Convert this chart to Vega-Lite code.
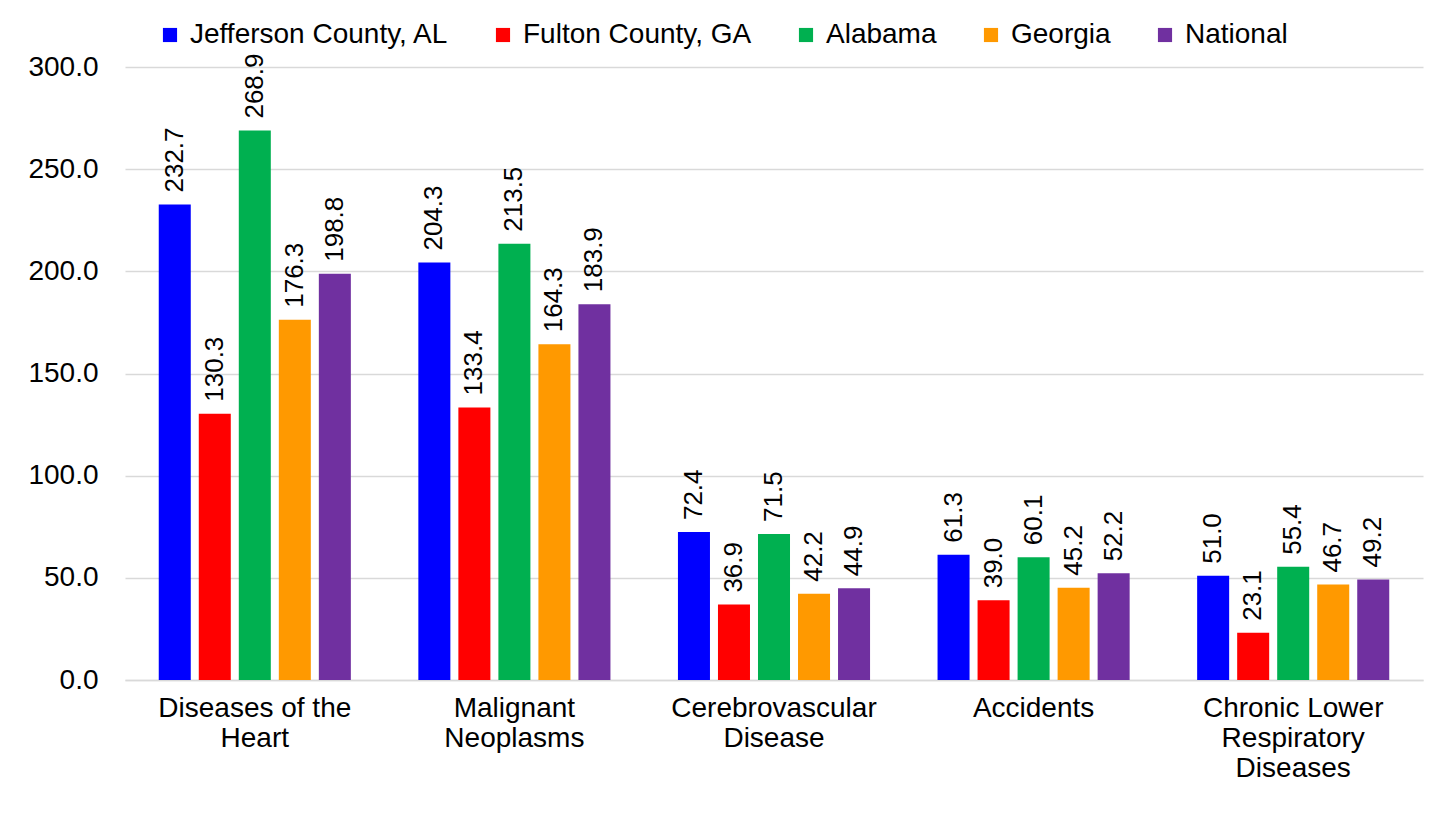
{
  "$schema": "https://vega.github.io/schema/vega-lite/v6.json",
  "width": 1298,
  "height": 613,
  "autosize": {"type": "none"},
  "padding": {"left": 125, "top": 67, "right": 26, "bottom": 136},
  "background": "white",
  "config": {
    "font": "Liberation Sans",
    "view": {"stroke": null},
    "axis": {"labelColor": "black", "labelFont": "Liberation Sans"},
    "legend": {"labelFont": "Liberation Sans"}
  },
  "data": {
    "values": [
      {"cause": "Diseases of the Heart", "area": "Jefferson County, AL", "rate": 232.7},
      {"cause": "Diseases of the Heart", "area": "Fulton County, GA", "rate": 130.3},
      {"cause": "Diseases of the Heart", "area": "Alabama", "rate": 268.9},
      {"cause": "Diseases of the Heart", "area": "Georgia", "rate": 176.3},
      {"cause": "Diseases of the Heart", "area": "National", "rate": 198.8},
      {"cause": "Malignant Neoplasms", "area": "Jefferson County, AL", "rate": 204.3},
      {"cause": "Malignant Neoplasms", "area": "Fulton County, GA", "rate": 133.4},
      {"cause": "Malignant Neoplasms", "area": "Alabama", "rate": 213.5},
      {"cause": "Malignant Neoplasms", "area": "Georgia", "rate": 164.3},
      {"cause": "Malignant Neoplasms", "area": "National", "rate": 183.9},
      {"cause": "Cerebrovascular Disease", "area": "Jefferson County, AL", "rate": 72.4},
      {"cause": "Cerebrovascular Disease", "area": "Fulton County, GA", "rate": 36.9},
      {"cause": "Cerebrovascular Disease", "area": "Alabama", "rate": 71.5},
      {"cause": "Cerebrovascular Disease", "area": "Georgia", "rate": 42.2},
      {"cause": "Cerebrovascular Disease", "area": "National", "rate": 44.9},
      {"cause": "Accidents", "area": "Jefferson County, AL", "rate": 61.3},
      {"cause": "Accidents", "area": "Fulton County, GA", "rate": 39.0},
      {"cause": "Accidents", "area": "Alabama", "rate": 60.1},
      {"cause": "Accidents", "area": "Georgia", "rate": 45.2},
      {"cause": "Accidents", "area": "National", "rate": 52.2},
      {"cause": "Chronic Lower Respiratory Diseases", "area": "Jefferson County, AL", "rate": 51.0},
      {"cause": "Chronic Lower Respiratory Diseases", "area": "Fulton County, GA", "rate": 23.1},
      {"cause": "Chronic Lower Respiratory Diseases", "area": "Alabama", "rate": 55.4},
      {"cause": "Chronic Lower Respiratory Diseases", "area": "Georgia", "rate": 46.7},
      {"cause": "Chronic Lower Respiratory Diseases", "area": "National", "rate": 49.2}
    ]
  },
  "encoding": {
    "x": {
      "field": "cause",
      "type": "nominal",
      "sort": null,
      "title": null,
      "scale": {"paddingInner": 0.26, "paddingOuter": 0.13},
      "axis": {
        "labelAngle": 0,
        "labelFontSize": 28,
        "labelLimit": 400,
        "labelPadding": 14,
        "labelLineHeight": 30,
        "labelBaseline": "top",
        "ticks": false,
        "domainColor": "#d9d9d9",
        "domainWidth": 1.5,
        "labelExpr": "datum.value == 'Diseases of the Heart' ? ['Diseases of the', 'Heart'] : datum.value == 'Malignant Neoplasms' ? ['Malignant', 'Neoplasms'] : datum.value == 'Cerebrovascular Disease' ? ['Cerebrovascular', 'Disease'] : datum.value == 'Chronic Lower Respiratory Diseases' ? ['Chronic Lower', 'Respiratory', 'Diseases'] : datum.value"
      }
    },
    "xOffset": {
      "field": "area",
      "type": "nominal",
      "sort": null,
      "scale": {"paddingInner": 0.2, "paddingOuter": 0}
    },
    "y": {
      "field": "rate",
      "type": "quantitative",
      "title": null,
      "scale": {"domain": [0, 300], "nice": false},
      "axis": {
        "values": [0, 50, 100, 150, 200, 250, 300],
        "format": ".1f",
        "labelFontSize": 28,
        "labelPadding": 27,
        "ticks": false,
        "domain": false,
        "gridColor": "#d9d9d9",
        "gridWidth": 1.5
      }
    }
  },
  "layer": [
    {
      "mark": {"type": "bar"},
      "encoding": {
        "color": {
          "field": "area",
          "type": "nominal",
          "sort": null,
          "scale": {
            "domain": ["Jefferson County, AL", "Fulton County, GA", "Alabama", "Georgia", "National"],
            "range": ["#0000ff", "#ff0000", "#00b050", "#ff9900", "#7030a0"]
          },
          "legend": {
            "title": null,
            "orient": "none",
            "direction": "horizontal",
            "legendX": 31,
            "legendY": -46,
            "padding": 0,
            "symbolType": "square",
            "symbolSize": 200,
            "symbolStrokeWidth": 0,
            "labelFontSize": 28,
            "labelLimit": 500,
            "labelOffset": 6,
            "columnPadding": 40
          }
        }
      }
    },
    {
      "mark": {"type": "text", "angle": 270, "align": "left", "baseline": "middle", "dx": 12, "fontSize": 26, "color": "black"},
      "encoding": {
        "text": {"field": "rate", "type": "quantitative", "format": ".1f"}
      }
    }
  ]
}
